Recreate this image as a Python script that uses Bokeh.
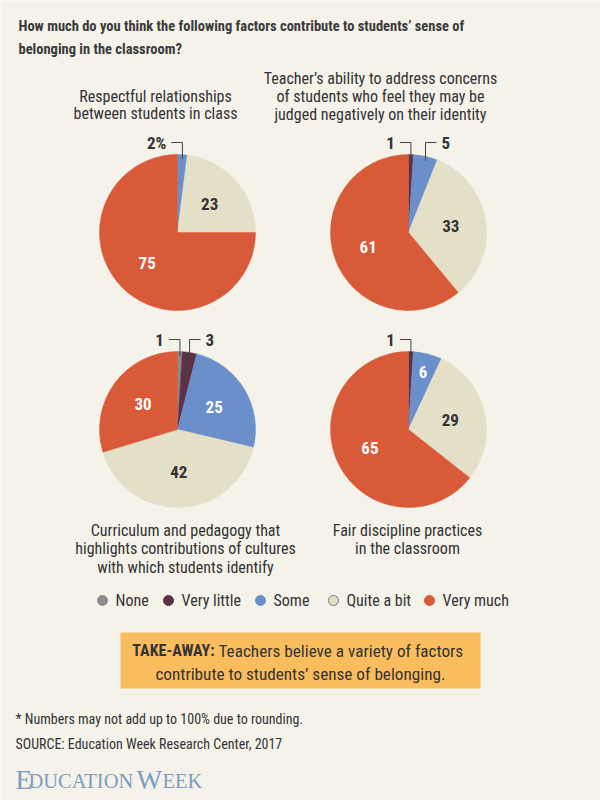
import math

from bokeh.core.properties import value
from bokeh.embed import file_html
from bokeh.models import ColumnDataSource, Range1d
from bokeh.plotting import figure
from bokeh.resources import INLINE

# ---- data -------------------------------------------------------------
categories = ["None", "Very little", "Some", "Quite a bit", "Very much"]
colors = ["#8b8b8b", "#5a3347", "#6b8fca", "#e4dfc7", "#d85a39"]
label_colors = ["#333333", "#333333", "#ffffff", "#333333", "#ffffff"]

respectful = [0, 0, 2, 23, 75]
teacher_ability = [0, 1, 5, 33, 61]
curriculum = [1, 3, 25, 42, 30]
discipline = [0, 1, 6, 29, 65]

title = [
    "How much do you think the following factors contribute to students\u2019 sense of",
    "belonging in the classroom?",
]
pie_titles = [
    ["Respectful relationships", "between students in class"],
    ["Teacher\u2019s ability to address concerns", "of students who feel they may be",
     "judged negatively on their identity"],
    ["Curriculum and pedagogy that", "highlights contributions of cultures",
     "with which students identify"],
    ["Fair discipline practices", "in the classroom"],
]
takeaway_head = "TAKE-AWAY:"
takeaway_lines = ["Teachers believe a variety of factors",
                  "contribute to students\u2019 sense of belonging."]
footnote = "* Numbers may not add up to 100% due to rounding."
source = "SOURCE: Education Week Research Center, 2017"

# ---- layout -----------------------------------------------------------
W, H = 600, 800
BG = "#f5f2ea"
INK = "#333333"
SANS = "Roboto Condensed"
SERIF = "Liberation Serif"


def Y(sy):
    """Page pixels (top-down) -> data y (bottom-up)."""
    return H - sy


pies = [respectful, teacher_ability, curriculum, discipline]
centers = [(177, 232), (408, 232), (177, 429), (408, 429)]
R = 78
title_pos = [(155, [96, 113]), (380, [78, 96, 114]),
             (185, [530, 548, 567]), (407, [530, 548])]
legend_dot_x = [102, 168, 260, 333, 429]
LEGEND_Y = 600

p = figure(width=W, height=H, x_range=Range1d(0, W), y_range=Range1d(0, H),
           output_backend="svg", toolbar_location=None,
           background_fill_color=BG, border_fill_color=BG, min_border=0)
p.axis.visible = False
p.grid.visible = False
p.outline_line_color = None

# ---- pies -------------------------------------------------------------
wedges = dict(x=[], y=[], start=[], end=[], color=[])
inside = dict(x=[], y=[], text=[], color=[])
out_left = dict(x=[], y=[], text=[])
out_right = dict(x=[], y=[], text=[])
leaders_x, leaders_y = [], []

for k, (vals, (cx, cy)) in enumerate(zip(pies, centers)):
    total = sum(vals)
    cum = 0
    n_out = 0
    for i, v in enumerate(vals):
        if v == 0:
            continue
        a0, a1 = cum / total, (cum + v) / total
        cum += v
        wedges["x"].append(cx)
        wedges["y"].append(Y(cy))
        wedges["start"].append(math.pi / 2 - 2 * math.pi * a0)
        wedges["end"].append(math.pi / 2 - 2 * math.pi * a1)
        wedges["color"].append(colors[i])

        mid = (a0 + a1) * math.pi  # clockwise from 12 o'clock
        txt = str(v)
        if v <= 5:
            # small slice: label outside with an elbow leader
            if k == 0 and n_out == 0:
                txt += "%"
            lx = cx + R * math.sin(mid)
            top = cy - R - 12
            bot = cy - 0.94 * R * math.cos(mid)
            side = -1 if n_out == 0 else 1
            n_out += 1
            leaders_x.append([lx + side * 11, lx, lx])
            leaders_y.append([Y(top), Y(top), Y(bot)])
            dest = out_left if side < 0 else out_right
            dest["x"].append(lx + side * 16)
            dest["y"].append(Y(top))
            dest["text"].append(txt)
        else:
            rr = R * (0.55 if v >= 10 else 0.76)
            inside["x"].append(cx + rr * math.sin(mid))
            inside["y"].append(Y(cy - rr * math.cos(mid)))
            inside["text"].append(txt)
            inside["color"].append(label_colors[i])

p.wedge(x="x", y="y", radius=R, start_angle="start", end_angle="end",
        direction="clock", fill_color="color", line_color="color",
        line_width=0.5, source=ColumnDataSource(wedges))

p.text(x="x", y="y", text="text", text_color="color", source=ColumnDataSource(inside),
       text_align="center", text_baseline="middle", text_font=value(SANS),
       text_font_size="17px", text_font_style="bold")

p.multi_line(xs=leaders_x, ys=leaders_y, line_color="#444444", line_width=1)
p.text(x="x", y="y", text="text", source=ColumnDataSource(out_left),
       text_align="right", text_baseline="middle", text_color=INK,
       text_font=value(SANS), text_font_size="17px", text_font_style="bold")
p.text(x="x", y="y", text="text", source=ColumnDataSource(out_right),
       text_align="left", text_baseline="middle", text_color=INK,
       text_font=value(SANS), text_font_size="17px", text_font_style="bold")

# ---- titles -----------------------------------------------------------
p.text(x=[18, 18], y=[Y(26), Y(49)], text=title, text_align="left",
       text_baseline="middle", text_color="#3a3a3a", text_font=value(SANS),
       text_font_size="14.5px", text_font_style="bold")

for (tx, ys), lines in zip(title_pos, pie_titles):
    p.text(x=[tx] * len(lines), y=[Y(v) for v in ys], text=lines,
           text_align="center", text_baseline="middle", text_color=INK,
           text_font=value(SANS), text_font_size="16px")

# ---- legend -----------------------------------------------------------
p.scatter(x=legend_dot_x, y=[Y(LEGEND_Y)] * 5, size=10, marker="circle",
          fill_color=colors,
          line_color=["#8b8b8b", "#5a3347", "#6b8fca", "#777777", "#d85a39"],
          line_width=1)
p.text(x=[v + 13 for v in legend_dot_x], y=[Y(LEGEND_Y)] * 5, text=categories,
       text_align="left", text_baseline="middle", text_color=INK,
       text_font=value(SANS), text_font_size="16px")

# ---- take-away box ----------------------------------------------------
p.quad(left=120, right=480, top=Y(632), bottom=Y(688), fill_color="#fabd5e",
       line_color=None)
p.text(x=[214], y=[Y(650)], text=[takeaway_head], text_align="right",
       text_baseline="middle", text_color=INK, text_font=value(SANS),
       text_font_size="16px", text_font_style="bold")
p.text(x=[218, 300], y=[Y(650), Y(673)], text=takeaway_lines,
       text_align=["left", "center"], text_baseline="middle", text_color=INK,
       text_font=value(SANS), text_font_size="17.2px")

# ---- footer -----------------------------------------------------------
p.text(x=[15, 15], y=[Y(718), Y(743)], text=[footnote, source], text_align="left",
       text_baseline="middle", text_color=INK, text_font=value(SANS),
       text_font_size="14px")

logo_color = "#7e9cc4"
p.text(x=[15, 136], y=[Y(779), Y(779)], text=["E", "W"], text_align="left",
       text_baseline="middle", text_color=logo_color, text_font=value(SERIF),
       text_font_size="27px")
p.text(x=[28, 162], y=[Y(780), Y(780)], text=["DUCATION", "EEK"], text_align="left",
       text_baseline="middle", text_color=logo_color, text_font=value(SERIF),
       text_font_size="20.5px")

open("out.html", "w").write(file_html(p, INLINE))
